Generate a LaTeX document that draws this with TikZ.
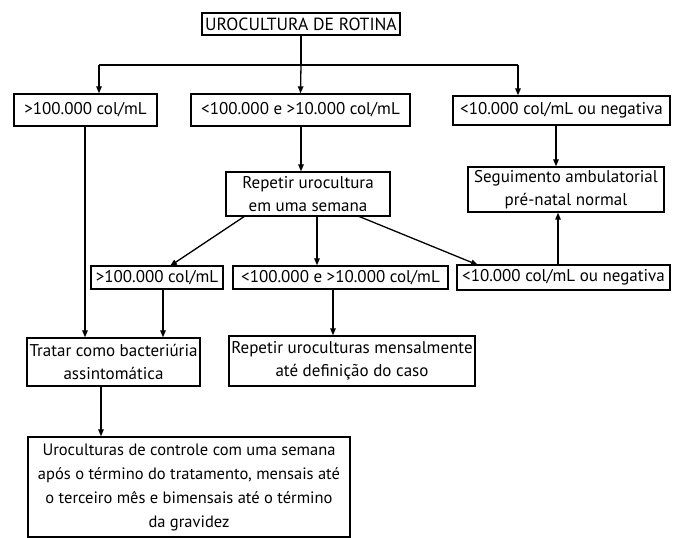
\documentclass[tikz,border=0pt]{standalone}
\usepackage{fontspec}
\setmainfont{PT Sans}
\usetikzlibrary{arrows.meta}
\begin{document}
\begin{tikzpicture}[x=1pt,y=-1pt,
  box/.style={draw=black,line width=1.4pt,inner sep=0pt,align=center,font=\fontsize{17}{23}\selectfont},
  arr/.style={line width=1.3pt,-{Triangle[length=7pt,width=5.5pt]}},
  ln/.style={line width=1.3pt}]
\useasboundingbox (0,0) rectangle (678,538);
\node[box,minimum width=198pt,minimum height=22pt,font=\fontsize{17.6}{23}\selectfont] (top) at (301,24) {UROCULTURA DE ROTINA};
\node[box,minimum width=143pt,minimum height=32pt] (L1) at (85.5,110) {>100.000 col/mL};
\node[box,minimum width=219pt,minimum height=32pt] (M1) at (300.5,110) {<100.000 e >10.000 col/mL};
\node[box,minimum width=217pt,minimum height=29pt] (R1) at (561.5,110.5) {<10.000 col/mL ou negativa};
\node[box,minimum width=164pt,minimum height=44pt] (Rep) at (308,194) {Repetir urocultura\\em uma semana};
\node[box,minimum width=196pt,minimum height=45pt] (Seg) at (566,189.5) {Seguimento ambulatorial\\pré-natal normal};
\node[box,minimum width=132pt,minimum height=23pt] (L2) at (157,277.5) {>100.000 col/mL};
\node[box,minimum width=215pt,minimum height=23pt] (M2) at (340.5,277.5) {<100.000 e >10.000 col/mL};
\node[box,minimum width=213pt,minimum height=25pt] (R2) at (563.5,277.5) {<10.000 col/mL ou negativa};
\node[box,minimum width=173pt,minimum height=48pt] (Trat) at (113.5,362) {Tratar como bacteriúria\\assintomática};
\node[box,minimum width=246pt,minimum height=50pt] (RepM) at (352,361) {Repetir uroculturas mensalmente\\até definição do caso};
\node[box,minimum width=322pt,minimum height=100pt,font=\fontsize{16.5}{24}\selectfont] (Big) at (189,487) {Uroculturas de controle com uma semana\\após o término do tratamento, mensais até\\o terceiro mês e bimensais até o término\\da gravidez};
% top split
\coordinate (jc) at (301,65);
\coordinate (jl) at (99,65);
\coordinate (jr) at (518,65);
\draw[ln] (top.south) -- (jc);
\draw[ln] (jl) -- (jr);
\draw[arr] (jc) -- (M1.north);
\draw[arr] (jl) -- (jl |- L1.north);
\draw[arr] (jr) -- (jr |- R1.north);
% middle
\coordinate (m1b) at (301,126);
\draw[arr] (m1b) -- (m1b |- Rep.north);
\coordinate (r1b) at (556,125);
\draw[arr] (r1b) -- (r1b |- Seg.north);
\coordinate (rb1) at (245,216);
\coordinate (rb2) at (317,216);
\coordinate (rb3) at (358,216);
\coordinate (l2t) at (170,266);
\coordinate (r2t) at (478,265);
\draw[arr] (rb1) -- (l2t);
\draw[arr] (rb2) -- (rb2 |- M2.north);
\draw[arr] (rb3) -- (r2t);
\coordinate (r2u) at (558,265);
\draw[arr] (r2u) -- (r2u |- Seg.south);
% lower
\coordinate (l1b) at (85,126);
\draw[arr] (l1b) -- (l1b |- Trat.north);
\coordinate (l2b) at (163,289);
\draw[arr] (l2b) -- (l2b |- Trat.north);
\coordinate (m2b) at (333,289);
\draw[arr] (m2b) -- (m2b |- RepM.north);
\coordinate (tb) at (101,386);
\draw[arr] (tb) -- (tb |- Big.north);
\end{tikzpicture}
\end{document}
